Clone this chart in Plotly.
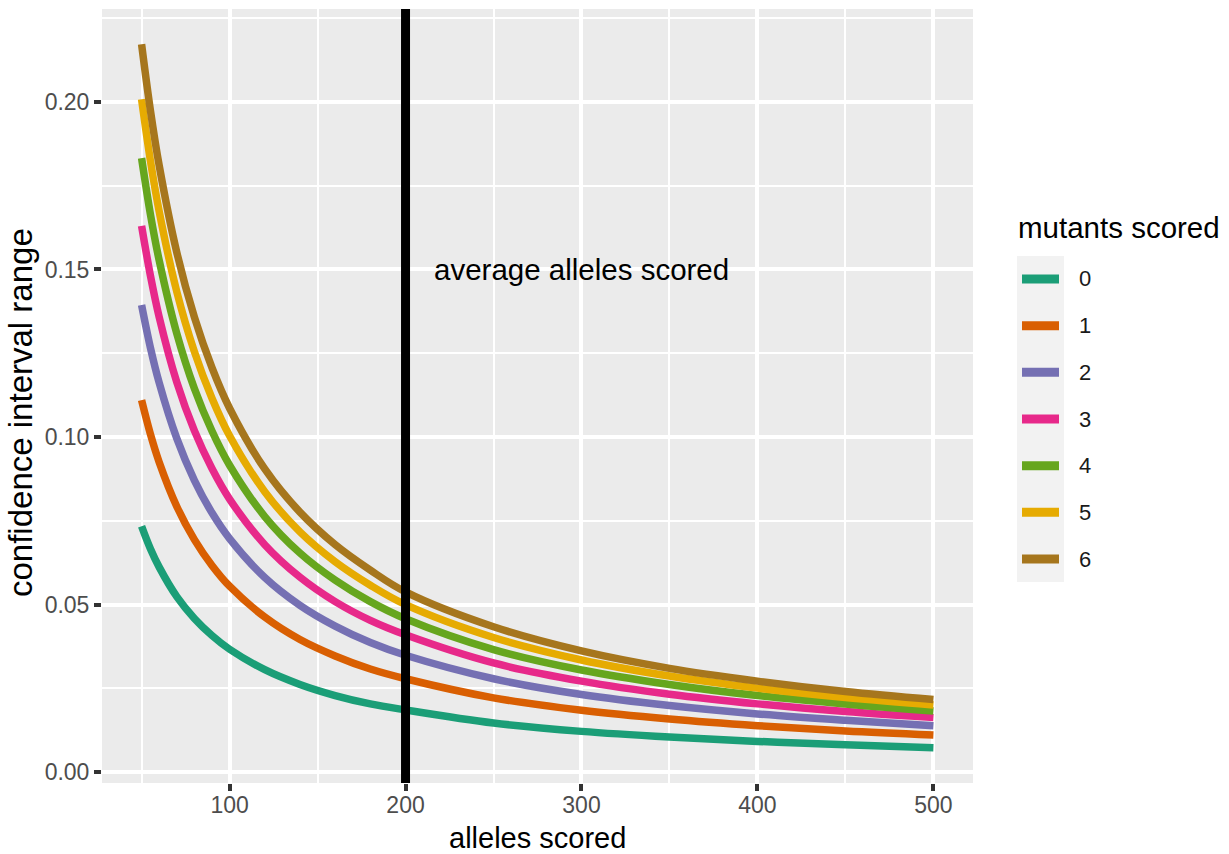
import plotly.graph_objects as go

# ---- data ----
alleles = [50, 55, 60, 70, 80, 90, 100, 120, 140, 160, 180, 200, 250, 300, 350, 400, 450, 500]
mutants = ["0", "1", "2", "3", "4", "5", "6"]
ci_0 = [0.0734, 0.0667, 0.0612, 0.0524, 0.0459, 0.0408, 0.0367, 0.0306, 0.0262, 0.0229, 0.0204, 0.0186, 0.0147, 0.0122, 0.0105, 0.0092, 0.0082, 0.0073]
ci_1 = [0.1110, 0.1009, 0.0925, 0.0793, 0.0694, 0.0617, 0.0555, 0.0463, 0.0396, 0.0347, 0.0308, 0.0279, 0.0222, 0.0185, 0.0159, 0.0139, 0.0123, 0.0111]
ci_2 = [0.1394, 0.1267, 0.1162, 0.0996, 0.0871, 0.0774, 0.0697, 0.0581, 0.0498, 0.0436, 0.0387, 0.0349, 0.0279, 0.0232, 0.0199, 0.0174, 0.0155, 0.0139]
ci_3 = [0.1630, 0.1482, 0.1358, 0.1164, 0.1019, 0.0906, 0.0815, 0.0679, 0.0582, 0.0509, 0.0453, 0.0410, 0.0326, 0.0272, 0.0233, 0.0204, 0.0181, 0.0163]
ci_4 = [0.1832, 0.1665, 0.1527, 0.1309, 0.1145, 0.1018, 0.0916, 0.0763, 0.0654, 0.0573, 0.0509, 0.0458, 0.0366, 0.0305, 0.0262, 0.0229, 0.0204, 0.0183]
ci_5 = [0.2008, 0.1825, 0.1673, 0.1434, 0.1255, 0.1116, 0.1004, 0.0837, 0.0717, 0.0628, 0.0558, 0.0500, 0.0402, 0.0335, 0.0287, 0.0251, 0.0223, 0.0201]
ci_6 = [0.2172, 0.1975, 0.1810, 0.1551, 0.1358, 0.1207, 0.1086, 0.0905, 0.0776, 0.0679, 0.0603, 0.0538, 0.0434, 0.0362, 0.0310, 0.0272, 0.0241, 0.0217]
series = [ci_0, ci_1, ci_2, ci_3, ci_4, ci_5, ci_6]
colors = ["#1B9E77", "#D95F02", "#7570B3", "#E7298A", "#66A61E", "#E6AB02", "#A6761D"]
vline_x = 200
note_text = "average alleles scored"
note_x, note_y = 300, 0.15
x_ticks = [100, 200, 300, 400, 500]
y_ticks = [0.00, 0.05, 0.10, 0.15, 0.20]

W, H = 1229, 854
ML, MR, MT, MB = 102, 256, 9, 71
PW, PH = W - ML - MR, H - MT - MB
FONT = "Liberation Sans, Arial, sans-serif"


def px_x(px):
    return (px - ML) / PW


def px_y(py):
    return (H - MB - py) / PH


fig = go.Figure()
for name, ys, col in zip(mutants, series, colors):
    fig.add_trace(go.Scatter(x=alleles, y=ys, mode="lines", name=name,
                             line=dict(color=col, width=7.5, shape="spline", smoothing=1.0),
                             showlegend=False))

shapes = [dict(type="line", xref="x", yref="paper", x0=vline_x, x1=vline_x, y0=0, y1=1,
               line=dict(color="black", width=9), layer="above")]

# legend (manual, ggplot style)
shapes.append(dict(type="rect", xref="paper", yref="paper",
                   x0=px_x(1017), x1=px_x(1064), y0=px_y(582), y1=px_y(256),
                   fillcolor="#F2F2F2", line=dict(width=0), layer="below"))
annotations = [dict(text=note_text, x=note_x, y=note_y, xref="x", yref="y", showarrow=False,
                    font=dict(family=FONT, size=29.5, color="black"), xanchor="center", yanchor="middle")]
annotations.append(dict(text="mutants scored", x=px_x(1016), y=px_y(228), xref="paper", yref="paper",
                        showarrow=False, xanchor="left", yanchor="middle",
                        font=dict(family=FONT, size=29.5, color="black")))
for i, (name, col) in enumerate(zip(mutants, colors)):
    ky = 279 + i * 46.67
    shapes.append(dict(type="line", xref="paper", yref="paper",
                       x0=px_x(1022), x1=px_x(1059), y0=px_y(ky), y1=px_y(ky),
                       line=dict(color=col, width=9)))
    annotations.append(dict(text=name, x=px_x(1077), y=px_y(ky), xref="paper", yref="paper",
                            showarrow=False, xanchor="left", yanchor="middle",
                            font=dict(family=FONT, size=22, color="#1A1A1A")))

# axis titles
annotations.append(dict(text="alleles scored", x=0.5, y=px_y(838), xref="paper", yref="paper",
                        showarrow=False, xanchor="center", yanchor="middle",
                        font=dict(family=FONT, size=29, color="black")))
annotations.append(dict(text="confidence interval range", x=px_x(20), y=px_y(413), xref="paper", yref="paper",
                        showarrow=False, xanchor="center", yanchor="middle", textangle=-90,
                        font=dict(family=FONT, size=33, color="black")))

fig.update_layout(
    width=W, height=H,
    margin=dict(l=ML, r=MR, t=MT, b=MB, pad=0),
    paper_bgcolor="white", plot_bgcolor="#EBEBEB",
    shapes=shapes, annotations=annotations, showlegend=False,
    font=dict(family=FONT),
    xaxis=dict(range=[27.5, 522.5], tickvals=x_ticks, ticktext=[str(v) for v in x_ticks],
               showgrid=True, gridcolor="white", gridwidth=4, zeroline=False,
               ticks="outside", ticklen=7, tickwidth=4, tickcolor="#333333",
               ticklabelstandoff=-6,
               tickfont=dict(family=FONT, size=23, color="#4D4D4D"),
               minor=dict(tickvals=[50, 150, 250, 350, 450], showgrid=True, gridcolor="white", gridwidth=2, ticklen=0),
               showline=False),
    yaxis=dict(range=[-0.0032, 0.2277], tickvals=y_ticks, ticktext=["%.2f" % v for v in y_ticks],
               showgrid=True, gridcolor="white", gridwidth=4, zeroline=False,
               ticks="outside", ticklen=7, tickwidth=4, tickcolor="#333333",
               tickfont=dict(family=FONT, size=23, color="#4D4D4D"),
               minor=dict(tickvals=[0.025, 0.075, 0.125, 0.175, 0.225], showgrid=True, gridcolor="white", gridwidth=2, ticklen=0),
               showline=False),
)

fig.write_html("out.html")
